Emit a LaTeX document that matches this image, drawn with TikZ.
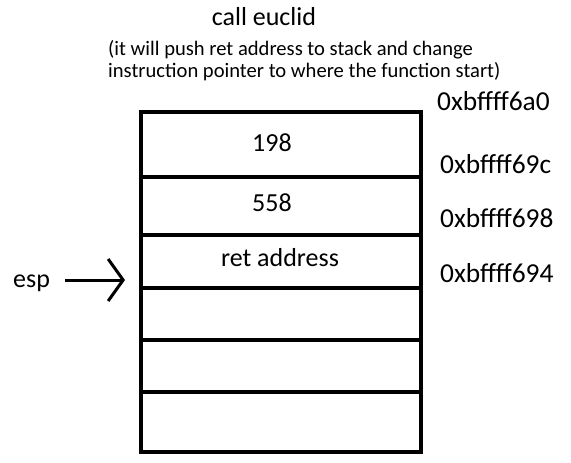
\documentclass[tikz,border=0pt]{standalone}
\usepackage{fontspec}
\setmainfont{Carlito}
\usetikzlibrary{arrows.meta}
\usetikzlibrary{calc}

\tikzset{
    cell/.style={black, line width=4pt},
    big/.style={font=\fontsize{26}{30}\selectfont, inner sep=0pt},
    small/.style={font=\fontsize{20.6}{22}\selectfont, inner sep=0pt, anchor=base west},
    addr/.style={font=\fontsize{27.4}{30}\selectfont, inner sep=0pt, anchor=base west},
}

\begin{document}
\begin{tikzpicture}[x=1pt,y=-1pt]
        \useasboundingbox (0,0) rectangle (571,463);
        % stack frame
        \draw[cell] (141,112) rectangle (421,452);
        \draw[cell] (141,177) -- (423,177);
        \draw[cell] (139,235) -- (421,235);
        \draw[cell] (141,288) -- (421,288);
        \draw[cell] (141,340) -- (421,340);
        \draw[cell] (141,392) -- (421,392);
        % contents
        \node[big, anchor=base] (v198) at (272,151) {198};
        \node[big, anchor=base] (v558) at (272,211) {558};
        \node[big, anchor=base] (ret) at (280,266) {ret address};
        % addresses
        \node[addr] (a6a0) at (437,110) {0xbffff6a0};
        \node[addr] (a69c) at (440,173) {0xbffff69c};
        \node[addr] (a698) at (440,227) {0xbffff698};
        \node[addr] (a694) at (440,282) {0xbffff694};
        % caption
        \node[big, anchor=base] (title) at (264,25) {call euclid};
        \node[small] (note1) at (108,55) {(it will push ret address to stack and change};
        \node[small] (note2) at (108,77) {instruction pointer to where the function start)};
        % stack pointer
        \node[big, anchor=base west] (esp) at (13,287) {esp};
        \coordinate (tail) at (65,280);
        \coordinate (tip) at (125,280);
        \draw[line width=3pt, -{Straight Barb[length=15pt, width=42pt]}] (tail) -- (tip);
    \end{tikzpicture}
\end{document}
